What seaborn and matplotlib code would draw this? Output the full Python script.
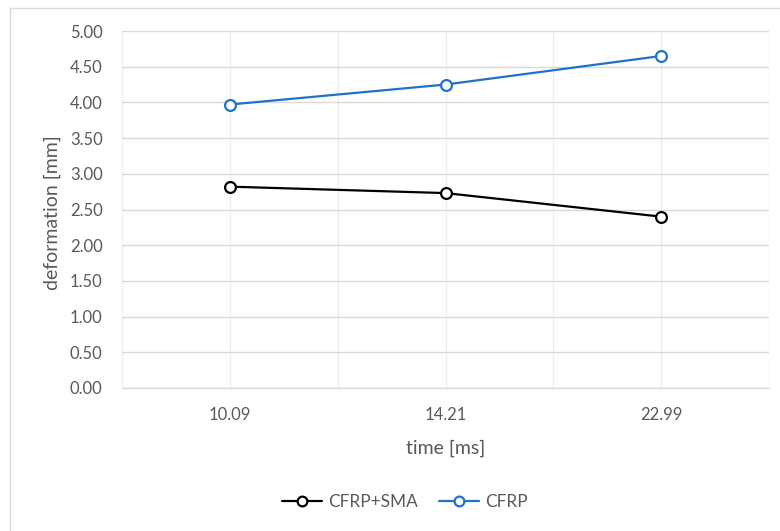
import matplotlib
matplotlib.use("Agg")
import matplotlib.pyplot as plt
from matplotlib.patches import Rectangle
import seaborn as sns
import pandas as pd

# Data
times = ["10.09", "14.21", "22.99"]
cfrp_sma = [2.82, 2.73, 2.40]
cfrp = [3.97, 4.25, 4.65]
series_names = ["CFRP+SMA", "CFRP"]

df = pd.DataFrame({
    "time": times * 2,
    "deformation": cfrp_sma + cfrp,
    "series": [series_names[0]] * 3 + [series_names[1]] * 3,
})

sns.set_theme(style="white")
plt.rcParams["font.family"] = ["Lato", "DejaVu Sans"]
text_color = "#595959"
grid_color = "#D9D9D9"

fig = plt.figure(figsize=(7.8, 5.31), dpi=100)
ax = fig.add_axes([122 / 780, 1 - 388 / 531, (769 - 122) / 780, (388 - 31) / 531])

# Chart-area border
fig.patches.append(Rectangle((10 / 780, -0.05), 1.05, 1 - 8 / 531 + 0.05,
                             transform=fig.transFigure, fill=False,
                             edgecolor="#D9D9D9", linewidth=1.0, zorder=0))

palette = {"CFRP+SMA": "#000000", "CFRP": "#1F72C8"}
sns.lineplot(data=df, x="time", y="deformation", hue="series", palette=palette,
             marker="o", markersize=7.8, linewidth=1.6, ax=ax,
             legend=False, sort=False)

# Hollow circle markers with coloured rims
for line in ax.lines:
    line.set_markerfacecolor("white")
    line.set_markeredgecolor(line.get_color())
    line.set_markeredgewidth(1.6)

ax.set_xlim(-0.5, 2.5)
ax.set_ylim(0, 5)
ax.set_yticks([i * 0.5 for i in range(11)])
ax.set_yticklabels([f"{i * 0.5:.2f}" for i in range(11)])
ax.set_xticks(range(len(times)))
ax.set_xticklabels(times)
ax.set_xticks([-0.5, 0.5, 1.5, 2.5], minor=True)

ax.grid(True, which="major", axis="y", color=grid_color, linewidth=1.0)
ax.grid(True, which="both", axis="x", color="#EEEEEE", linewidth=1.0)
ax.set_axisbelow(True)
for side in ["top", "right", "left"]:
    ax.spines[side].set_visible(False)
ax.spines["bottom"].set_color(grid_color)
ax.spines["bottom"].set_linewidth(1.0)

ax.tick_params(axis="both", which="both", length=0, colors=text_color, labelsize=12)
ax.tick_params(axis="y", pad=14)
ax.tick_params(axis="x", pad=14)

ax.set_xlabel("time [ms]", color=text_color, fontsize=14, labelpad=12)
ax.set_ylabel("deformation [mm]", color=text_color, fontsize=14)
ax.yaxis.set_label_coords(-0.095, 0.49)

handles = [plt.Line2D([], [], color=palette[n], marker="o", markerfacecolor="white",
                      markeredgecolor=palette[n], markersize=7, markeredgewidth=1.6,
                      linewidth=1.6) for n in series_names]
fig.legend(handles, series_names, loc="center", bbox_to_anchor=(405 / 780, 1 - 502 / 531),
           ncol=2, frameon=False, fontsize=12.4, labelcolor=text_color,
           handlelength=2.35, handletextpad=0.35, columnspacing=1.2)

fig.savefig("out.png", dpi=100)
